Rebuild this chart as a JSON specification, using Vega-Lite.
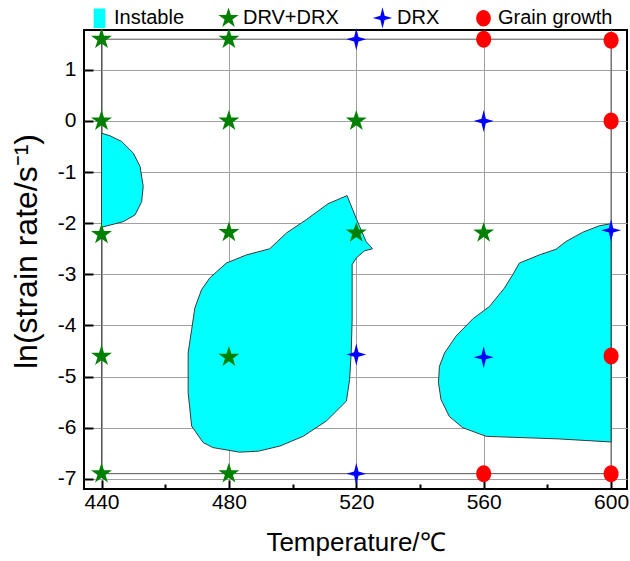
{
  "$schema": "https://vega.github.io/schema/vega-lite/v6.json",
  "width": 543,
  "height": 459,
  "autosize": {"type": "none"},
  "padding": {"left": 84, "top": 30, "right": 3, "bottom": 72},
  "config": {
    "view": {"stroke": "black", "strokeWidth": 2},
    "font": "Liberation Sans",
    "axis": {
      "domain": false,
      "gridColor": "#a0a0a0",
      "gridWidth": 1,
      "tickColor": "black",
      "tickWidth": 2,
      "labelColor": "black",
      "titleColor": "black",
      "labelFontSize": 21,
      "titleFontWeight": "normal"
    },
    "legend": {
      "labelFontSize": 20,
      "labelColor": "black"
    }
  },
  "datasets": {
    "pts": [
      {"T": 440, "lnr": 1.6, "kind": "DRV+DRX"},
      {"T": 440, "lnr": 0, "kind": "DRV+DRX"},
      {"T": 440, "lnr": -2.22, "kind": "DRV+DRX"},
      {"T": 440, "lnr": -4.6, "kind": "DRV+DRX"},
      {"T": 440, "lnr": -6.9, "kind": "DRV+DRX"},
      {"T": 480, "lnr": 1.6, "kind": "DRV+DRX"},
      {"T": 480, "lnr": 0, "kind": "DRV+DRX"},
      {"T": 480, "lnr": -2.18, "kind": "DRV+DRX"},
      {"T": 480, "lnr": -4.62, "kind": "DRV+DRX"},
      {"T": 480, "lnr": -6.9, "kind": "DRV+DRX"},
      {"T": 520, "lnr": 1.6, "kind": "DRX"},
      {"T": 520, "lnr": 0, "kind": "DRV+DRX"},
      {"T": 520, "lnr": -2.19, "kind": "DRV+DRX"},
      {"T": 520, "lnr": -4.57, "kind": "DRX"},
      {"T": 520, "lnr": -6.9, "kind": "DRX"},
      {"T": 560, "lnr": 1.6, "kind": "Grain growth"},
      {"T": 560, "lnr": 0, "kind": "DRX"},
      {"T": 560, "lnr": -2.19, "kind": "DRV+DRX"},
      {"T": 560, "lnr": -4.62, "kind": "DRX"},
      {"T": 560, "lnr": -6.9, "kind": "Grain growth"},
      {"T": 600, "lnr": 1.58, "kind": "Grain growth"},
      {"T": 600, "lnr": 0, "kind": "Grain growth"},
      {"T": 600, "lnr": -2.14, "kind": "DRX"},
      {"T": 600, "lnr": -4.6, "kind": "Grain growth"},
      {"T": 600, "lnr": -6.9, "kind": "Grain growth"}
    ],
    "regions": [
      {"id": "A", "o": 1, "T": 440, "lnr": -0.24},
      {"id": "A", "o": 2, "T": 442.7, "lnr": -0.29},
      {"id": "A", "o": 3, "T": 446.3, "lnr": -0.4},
      {"id": "A", "o": 4, "T": 450.0, "lnr": -0.63},
      {"id": "A", "o": 5, "T": 452.1, "lnr": -0.89},
      {"id": "A", "o": 6, "T": 453.1, "lnr": -1.28},
      {"id": "A", "o": 7, "T": 452.6, "lnr": -1.58},
      {"id": "A", "o": 8, "T": 450.5, "lnr": -1.84},
      {"id": "A", "o": 9, "T": 446.8, "lnr": -1.97},
      {"id": "A", "o": 10, "T": 440, "lnr": -2.08},
      {"id": "A", "o": 11, "T": 440, "lnr": -0.24},
      {"id": "B", "o": 1, "T": 517.1, "lnr": -1.46},
      {"id": "B", "o": 2, "T": 511.1, "lnr": -1.62},
      {"id": "B", "o": 3, "T": 504.3, "lnr": -1.93},
      {"id": "B", "o": 4, "T": 498.1, "lnr": -2.19},
      {"id": "B", "o": 5, "T": 492.8, "lnr": -2.5},
      {"id": "B", "o": 6, "T": 485.5, "lnr": -2.62},
      {"id": "B", "o": 7, "T": 479.2, "lnr": -2.78},
      {"id": "B", "o": 8, "T": 474.0, "lnr": -3.07},
      {"id": "B", "o": 9, "T": 471.4, "lnr": -3.3},
      {"id": "B", "o": 10, "T": 469.3, "lnr": -3.66},
      {"id": "B", "o": 11, "T": 468.3, "lnr": -4.08},
      {"id": "B", "o": 12, "T": 467.2, "lnr": -4.54},
      {"id": "B", "o": 13, "T": 467.2, "lnr": -5.32},
      {"id": "B", "o": 14, "T": 468.3, "lnr": -5.97},
      {"id": "B", "o": 15, "T": 471.9, "lnr": -6.29},
      {"id": "B", "o": 16, "T": 475.0, "lnr": -6.39},
      {"id": "B", "o": 17, "T": 483.4, "lnr": -6.48},
      {"id": "B", "o": 18, "T": 489.2, "lnr": -6.46},
      {"id": "B", "o": 19, "T": 496.0, "lnr": -6.36},
      {"id": "B", "o": 20, "T": 503.3, "lnr": -6.17},
      {"id": "B", "o": 21, "T": 510.6, "lnr": -5.87},
      {"id": "B", "o": 22, "T": 516.9, "lnr": -5.48},
      {"id": "B", "o": 23, "T": 517.9, "lnr": -5.06},
      {"id": "B", "o": 24, "T": 518.4, "lnr": -4.54},
      {"id": "B", "o": 25, "T": 518.7, "lnr": -3.89},
      {"id": "B", "o": 26, "T": 518.7, "lnr": -2.81},
      {"id": "B", "o": 27, "T": 520.0, "lnr": -2.68},
      {"id": "B", "o": 28, "T": 522.6, "lnr": -2.54},
      {"id": "B", "o": 29, "T": 525.1, "lnr": -2.5},
      {"id": "B", "o": 30, "T": 523.1, "lnr": -2.36},
      {"id": "B", "o": 31, "T": 521.0, "lnr": -2.06},
      {"id": "B", "o": 32, "T": 518.9, "lnr": -1.74},
      {"id": "B", "o": 33, "T": 517.1, "lnr": -1.46},
      {"id": "C", "o": 1, "T": 600, "lnr": -2.01},
      {"id": "C", "o": 2, "T": 596.3, "lnr": -2.05},
      {"id": "C", "o": 3, "T": 591.0, "lnr": -2.18},
      {"id": "C", "o": 4, "T": 585.8, "lnr": -2.36},
      {"id": "C", "o": 5, "T": 582.7, "lnr": -2.51},
      {"id": "C", "o": 6, "T": 577.5, "lnr": -2.62},
      {"id": "C", "o": 7, "T": 571.2, "lnr": -2.78},
      {"id": "C", "o": 8, "T": 569.1, "lnr": -3.01},
      {"id": "C", "o": 9, "T": 566.5, "lnr": -3.27},
      {"id": "C", "o": 10, "T": 561.8, "lnr": -3.63},
      {"id": "C", "o": 11, "T": 556.6, "lnr": -3.87},
      {"id": "C", "o": 12, "T": 551.3, "lnr": -4.21},
      {"id": "C", "o": 13, "T": 547.7, "lnr": -4.54},
      {"id": "C", "o": 14, "T": 546.1, "lnr": -4.8},
      {"id": "C", "o": 15, "T": 545.8, "lnr": -5.12},
      {"id": "C", "o": 16, "T": 546.6, "lnr": -5.45},
      {"id": "C", "o": 17, "T": 549.2, "lnr": -5.78},
      {"id": "C", "o": 18, "T": 553.4, "lnr": -6.0},
      {"id": "C", "o": 19, "T": 560.8, "lnr": -6.17},
      {"id": "C", "o": 20, "T": 583.6, "lnr": -6.22},
      {"id": "C", "o": 21, "T": 600, "lnr": -6.28},
      {"id": "C", "o": 22, "T": 600, "lnr": -2.01}
    ],
    "frame": [{"T1": 440, "T2": 600, "y1": -6.9, "y2": 1.6}]
  },
  "layer": [
    {
      "data": {"name": "frame"},
      "mark": {"type": "rect", "filled": false, "stroke": "#555555", "strokeWidth": 1},
      "encoding": {
        "x": {
          "field": "T1",
          "type": "quantitative",
          "scale": {"domain": [434.5, 605], "nice": false, "zero": false},
          "axis": {
            "values": [440, 460, 480, 500, 520, 540, 560, 580, 600],
            "labelExpr": "datum.value % 40 === 0 ? datum.label : ''",
            "gridOpacity": {"condition": {"test": "datum.value % 40 !== 0", "value": 0}, "value": 1},
            "tickSize": {"condition": {"test": "datum.value % 40 !== 0", "value": -5}, "value": -9},
            "labelPadding": 11,
            "title": "Temperature/℃",
            "titleFontSize": 26,
            "titlePadding": 17
          }
        },
        "x2": {"field": "T2"},
        "y": {
          "field": "y1",
          "type": "quantitative",
          "scale": {"domain": [-7.2, 1.78], "nice": false, "zero": false},
          "axis": {
            "values": [-7, -6.5, -6, -5.5, -5, -4.5, -4, -3.5, -3, -2.5, -2, -1.5, -1, -0.5, 0, 0.5, 1, 1.5],
            "labelExpr": "datum.value % 1 === 0 ? replace(format(datum.value, 'd'), '−', '-') : ''",
            "gridOpacity": {"condition": {"test": "datum.value % 1 !== 0", "value": 0}, "value": 1},
            "tickSize": {"condition": {"test": "datum.value % 1 !== 0", "value": -5}, "value": -9},
            "labelPadding": 17,
            "title": "ln(strain rate/s⁻¹)",
            "titleFontSize": 32,
            "titlePadding": 14,
            "titleY": 221
          }
        },
        "y2": {"field": "y2"}
      }
    },
    {
      "data": {"name": "regions"},
      "mark": {"type": "line", "fill": "#00FFFF", "stroke": "#3a3a3a", "strokeWidth": 1},
      "encoding": {
        "x": {"field": "T", "type": "quantitative"},
        "y": {"field": "lnr", "type": "quantitative"},
        "detail": {"field": "id"},
        "order": {"field": "o", "type": "quantitative"}
      }
    },
    {
      "data": {"name": "pts"},
      "mark": {"type": "point", "filled": true, "opacity": 1, "strokeWidth": 0, "size": 400},
      "encoding": {
        "x": {"field": "T", "type": "quantitative"},
        "y": {"field": "lnr", "type": "quantitative"},
        "color": {
          "field": "kind",
          "type": "nominal",
          "scale": {
            "domain": ["Instable", "DRV+DRX", "DRX", "Grain growth"],
            "range": ["#00FFFF", "#008000", "#0000FF", "#FF0000"]
          },
          "legend": {
            "title": null,
            "orient": "none",
            "legendX": 5,
            "legendY": -23,
            "direction": "horizontal",
            "columnPadding": 33,
            "symbolSize": 380,
            "labelOffset": 4
          }
        },
        "shape": {
          "field": "kind",
          "type": "nominal",
          "scale": {
            "domain": ["Instable", "DRV+DRX", "DRX", "Grain growth"],
            "range": [
              "M-0.6,-1L0.6,-1L0.6,1L-0.6,1Z",
              "M0,-1.1L0.248,-0.34L1.046,-0.34L0.4,0.13L0.647,0.89L0,0.42L-0.647,0.89L-0.4,0.13L-1.046,-0.34L-0.248,-0.34Z",
              "M0,-1.1L0.22,-0.22L1,0L0.22,0.22L0,1.1L-0.22,0.22L-1,0L-0.22,-0.22Z",
              "M0,-0.85A0.75,0.85 0 1,1 0,0.85A0.75,0.85 0 1,1 0,-0.85Z"
            ]
          },
          "legend": {
            "title": null,
            "orient": "none",
            "legendX": 5,
            "legendY": -23,
            "direction": "horizontal",
            "columnPadding": 33,
            "symbolSize": 380,
            "labelOffset": 4
          }
        }
      }
    }
  ]
}
